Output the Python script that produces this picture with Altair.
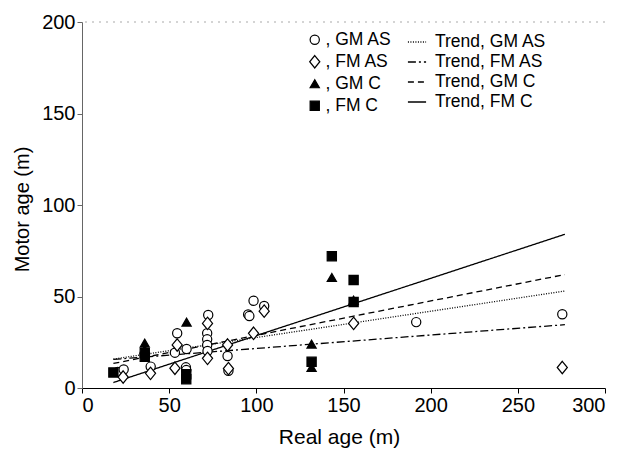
import altair as alt
import pandas as pd

# ---- data ----
groups = ["GM AS", "FM AS", "GM C", "FM C"]

gm_as_x = [20.5, 23.9, 39.4, 53.3, 54.6, 60.0, 59.6, 59.8, 72.4, 71.8, 71.8, 71.8, 72.0,
           83.5, 84.0, 95.3, 96.0, 98.4, 104.5, 191.7, 275.5]
gm_as_y = [8.8, 10.1, 11.7, 19.3, 29.9, 21.3, 11.3, 9.8, 39.9, 29.9, 26.6, 23.5, 20.2,
           17.5, 9.4, 40.2, 39.3, 47.7, 44.8, 36.0, 40.3]

fm_as_x = [23.6, 39.3, 53.3, 54.6, 72.0, 72.0, 83.5, 84.0, 98.4, 104.5, 155.8, 275.5]
fm_as_y = [6.0, 8.0, 10.8, 23.5, 35.3, 16.2, 23.5, 10.6, 29.9, 42.0, 35.3, 11.2]

gm_c_x = [36.0, 36.0, 60.0, 131.7, 131.7, 143.3, 155.8]
gm_c_y = [24.5, 21.0, 36.0, 24.0, 11.2, 60.4, 48.0]

fm_c_x = [18.0, 36.0, 36.0, 59.8, 59.8, 131.7, 143.3, 155.8, 155.8]
fm_c_y = [8.5, 19.0, 17.0, 4.8, 7.5, 14.3, 72.0, 59.0, 47.0]

trend_names = ["Trend, GM AS", "Trend, FM AS", "Trend, GM C", "Trend, FM C"]
trend_x0 = [18, 18, 18, 18]
trend_x1 = [277, 277, 277, 277]
trend_y0 = [15.8, 15.6, 13.4, 3.0]
trend_y1 = [53.0, 34.6, 62.0, 84.0]

top_line = [200]

# ---- tables ----
rows = []
for g, xs, ys in zip(groups, [gm_as_x, fm_as_x, gm_c_x, fm_c_x],
                     [gm_as_y, fm_as_y, gm_c_y, fm_c_y]):
    for xv, yv in zip(xs, ys):
        rows.append({"group": g, "x": xv, "y": yv})
pts = pd.DataFrame(rows)

trows = []
for n, a, b, c, d in zip(trend_names, trend_x0, trend_x1, trend_y0, trend_y1):
    trows.append({"trend": n, "x": a, "y": c})
    trows.append({"trend": n, "x": b, "y": d})
trends = pd.DataFrame(trows)

FONT = "Liberation Sans"
xscale = alt.Scale(domain=[0, 300], nice=False)
yscale = alt.Scale(domain=[0, 200], nice=False)

diamond = "M0,-1.35L1.1,0L0,1.35L-1.1,0Z"

xaxis = alt.Axis(values=[0, 50, 100, 150, 200, 250, 300], title="Real age (m)",
                 grid=False, domainColor="black", tickColor="black", tickSize=5,
                 labelFontSize=20, titleFontSize=21, titleFontWeight="normal",
                 labelColor="black", titleColor="black", titlePadding=11, labelPadding=2,
                 titleX=257)
yaxis = alt.Axis(values=[0, 50, 100, 150, 200], title="Motor age (m)",
                 grid=False, domainColor="#666", tickColor="#666", tickSize=5,
                 labelFontSize=20, titleFontSize=20, titleFontWeight="normal",
                 labelColor="black", titleColor="black", labelPadding=2,
                 titleX=-50, titleY=187)

leg_common = dict(title=None, orient="none", legendX=224, legendY=9,
                  symbolSize=85, symbolStrokeColor="black", symbolStrokeWidth=1.2,
                  labelFontSize=17.5, labelFont=FONT, labelColor="black",
                  rowPadding=3.0, labelOffset=2, padding=0,
                  labelExpr="', ' + datum.label")

rule = alt.Chart(pd.DataFrame({"y": top_line})).mark_rule(
    color="#aaaaaa", strokeDash=[2, 5], strokeWidth=1.2
).encode(y=alt.Y("y:Q", scale=yscale, axis=yaxis))

lines = alt.Chart(trends).mark_line(color="black", strokeWidth=1.3).encode(
    x=alt.X("x:Q", scale=xscale, axis=xaxis),
    y=alt.Y("y:Q", scale=yscale, axis=yaxis),
    strokeDash=alt.StrokeDash(
        "trend:N",
        scale=alt.Scale(domain=trend_names,
                        range=[[1, 1.5], [8, 3, 2, 3], [6, 4], [1, 0]]),
        legend=alt.Legend(title=None, orient="none", legendX=325, legendY=10,
                          symbolType="stroke", symbolSize=330, symbolStrokeWidth=1.3,
                          symbolStrokeColor="black", labelFontSize=17.5, labelFont=FONT,
                          labelColor="black", rowPadding=1.0, labelOffset=8, padding=0),
    ),
    detail="trend:N",
)

points = alt.Chart(pts).mark_point(filled=False, strokeWidth=1.2,
                                   size=85, opacity=1).encode(
    x=alt.X("x:Q", scale=xscale, axis=xaxis),
    y=alt.Y("y:Q", scale=yscale, axis=yaxis),
    shape=alt.Shape("group:N",
                    scale=alt.Scale(domain=groups,
                                    range=["circle", diamond, "triangle-up", "square"]),
                    legend=alt.Legend(**leg_common)),
    fill=alt.Fill("group:N",
                  scale=alt.Scale(domain=groups, range=["white", "white", "black", "black"]),
                  legend=alt.Legend(**leg_common)),
    stroke=alt.Stroke("group:N",
                      scale=alt.Scale(domain=groups, range=["black", "black", "black", "black"]),
                      legend=alt.Legend(**leg_common)),
)

chart = alt.layer(rule, lines, points).resolve_scale(
    strokeDash="independent"
).properties(
    width=523, height=366,
    autosize=alt.AutoSizeParams(type="none"),
    padding={"left": 74, "top": 14, "right": 8, "bottom": 60},
).configure(font=FONT).configure_view(stroke=None).configure_axis(labelFont=FONT, titleFont=FONT)

chart.save("out.html", embed_options={"renderer": "svg", "actions": False})
